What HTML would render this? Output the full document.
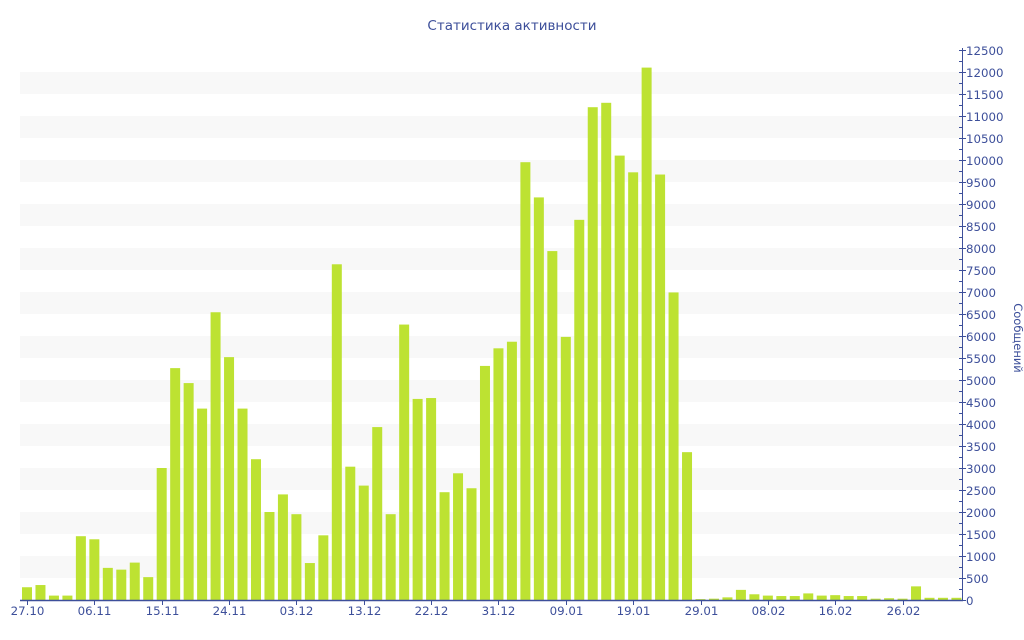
<!DOCTYPE html>
<html><head><meta charset="utf-8"><style>
body{margin:0;background:#fff;}
svg{display:block;font-family:"DejaVu Sans","Liberation Sans",sans-serif;}
</style></head><body>
<svg id="c" width="1024" height="640" viewBox="0 0 1024 640" xmlns="http://www.w3.org/2000/svg">
<text x="512" y="30" text-anchor="middle" font-size="13.5" fill="#3d4f9a">Статистика активности</text>
<g id="bands"></g><g id="bars"></g><g id="axis"></g>
<text transform="translate(1014,338) rotate(90)" text-anchor="middle" font-size="11.5" fill="#3d4f9a">Сообщений</text>
</svg>
<script>
var NS="http://www.w3.org/2000/svg";
function el(p,t,a,txt){var e=document.createElementNS(NS,t);for(var k in a)e.setAttribute(k,a[k]);if(txt!=null)e.textContent=txt;document.getElementById(p).appendChild(e);}
var y0=600,k=0.044;
for(var v=500;v<12500;v+=1000){el("bands","rect",{x:20,y:y0-(v+500)*k,width:942,height:500*k,fill:"#f8f8f8"});}
var d=[290,340,100,100,1450,1380,730,690,850,520,3000,5270,4930,4350,6540,5520,4350,3200,2000,2400,1950,840,1470,7630,3030,2600,3930,1950,6260,4570,4590,2450,2880,2540,5320,5720,5870,9950,9150,7930,5980,8640,11200,11300,10100,9720,12100,9670,6990,3360,20,30,60,230,130,100,90,90,150,100,110,90,90,30,40,30,310,50,50,50];
var sp=13.47;
d.forEach(function(v,i){var c=27+i*sp,h=v*k;el("bars","rect",{x:c-5,y:y0-h,width:10,height:h,fill:"#bde232"});});
el("axis","line",{x1:20,y1:600.5,x2:963,y2:600.5,stroke:"#3d4f9a","stroke-width":1.5});
el("axis","line",{x1:962.5,y1:48,x2:962.5,y2:601,stroke:"#3d4f9a","stroke-width":1});
for(var v=0;v<=12500;v+=250){var y=Math.round(y0-v*k)+0.5;
 if(v%500==0){el("axis","line",{x1:959,y1:y,x2:966,y2:y,stroke:"#3d4f9a"});el("axis","text",{x:966,y:y+4.5,"font-size":11.8,fill:"#3d4f9a"},v);}
 else el("axis","line",{x1:959,y1:y,x2:962,y2:y,stroke:"#3d4f9a"});}
var L=["27.10","06.11","15.11","24.11","03.12","13.12","22.12","31.12","09.01","19.01","29.01","08.02","16.02","26.02"];
L.forEach(function(t,i){var x=Math.round(27+i*5*sp)+0.5;el("axis","line",{x1:x,y1:601,x2:x,y2:605,stroke:"#3d4f9a"});el("axis","text",{x:x,y:615,"font-size":11.8,"text-anchor":"middle",fill:"#3d4f9a"},t);});
</script>
</body></html>
